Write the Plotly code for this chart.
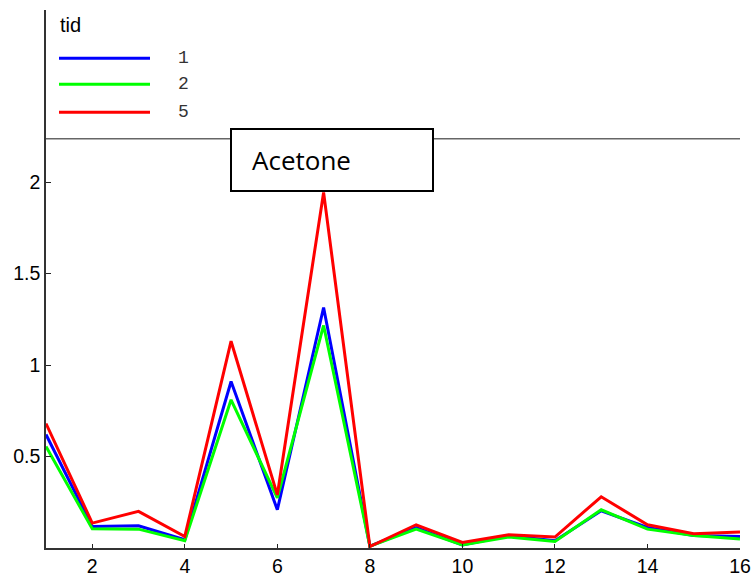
import plotly.graph_objects as go

# Measurement index 1..16 and responses per "tid" series
x_vals = list(range(1, 17))
tid_1 = [0.62, 0.117, 0.121, 0.045, 0.91, 0.209, 1.314, 0.01, 0.112, 0.017, 0.067, 0.04, 0.203, 0.112, 0.068, 0.063]
tid_2 = [0.555, 0.105, 0.103, 0.04, 0.81, 0.274, 1.216, 0.01, 0.103, 0.017, 0.06, 0.036, 0.209, 0.103, 0.068, 0.049]
tid_5 = [0.68, 0.136, 0.2, 0.063, 1.13, 0.29, 1.943, 0.008, 0.127, 0.03, 0.072, 0.06, 0.28, 0.127, 0.078, 0.087]

series_names = ["1", "2", "5"]
series_values = [tid_1, tid_2, tid_5]
series_colors = ["#0000FF", "#00FF00", "#FF0000"]

y_tick_vals = [0.5, 1, 1.5, 2]
y_tick_text = ["0.5", "1", "1.5", "2"]
x_tick_vals = [2, 4, 6, 8, 10, 12, 14, 16]

W, H = 753, 579
ML, MR, MT, MB = 46, 13, 10, 31
PW, PH = W - ML - MR, H - MT - MB


def px_x(p):
    return (p - ML) / PW


def px_y(p):
    return (H - MB - p) / PH


fig = go.Figure()
for name, vals, col in zip(series_names, series_values, series_colors):
    fig.add_trace(go.Scatter(x=x_vals, y=vals, mode="lines", name=name,
                             line=dict(color=col, width=3), showlegend=False))

axis_font = dict(family="Liberation Sans, Arial, sans-serif", size=19.5, color="black")

fig.update_layout(
    width=W, height=H,
    margin=dict(l=ML, r=MR, t=MT, b=MB, pad=0, autoexpand=False),
    paper_bgcolor="white", plot_bgcolor="white",
    xaxis=dict(range=[1, 16], tickvals=x_tick_vals, ticks="inside", ticklen=4,
               tickcolor="#222", showline=True, linecolor="#333", linewidth=1.5,
               showgrid=False, zeroline=False, tickfont=axis_font, automargin=False),
    yaxis=dict(range=[0, PH / 183.0], tickvals=y_tick_vals, ticktext=y_tick_text,
               ticks="inside", ticklen=5, tickcolor="#222", showline=True,
               linecolor="#333", linewidth=1.5, showgrid=False, zeroline=False,
               tickfont=axis_font, automargin=False),
)

shapes = []
# upper boundary of the data region
shapes.append(dict(type="line", xref="paper", yref="y", x0=0, x1=1, y0=2.236, y1=2.236,
                   line=dict(color="#666", width=1.5)))

# legend key lines
legend_rows_px = [58.3, 84.3, 112.3]
for row, col in zip(legend_rows_px, series_colors):
    shapes.append(dict(type="line", xref="paper", yref="paper",
                       x0=px_x(59), x1=px_x(150), y0=px_y(row), y1=px_y(row),
                       line=dict(color=col, width=3)))

# label box
shapes.append(dict(type="rect", xref="paper", yref="paper",
                   x0=px_x(231), x1=px_x(433), y0=px_y(191), y1=px_y(129),
                   line=dict(color="black", width=2), fillcolor="white", layer="above"))
fig.update_layout(shapes=shapes)

annotations = [
    dict(text="tid", xref="paper", yref="paper", x=px_x(58), y=px_y(25),
         xanchor="left", yanchor="middle", showarrow=False,
         font=dict(family="Liberation Sans, Arial, sans-serif", size=20, color="black")),
]
for row, name in zip(legend_rows_px, series_names):
    annotations.append(dict(text=name, xref="paper", yref="paper", x=px_x(176), y=px_y(row),
                            xanchor="left", yanchor="middle", showarrow=False,
                            font=dict(family="Liberation Mono, Courier New, monospace",
                                      size=18, color="#333")))
annotations.append(dict(text="Acetone", xref="paper", yref="paper", x=px_x(250), y=px_y(160),
                        xanchor="left", yanchor="middle", showarrow=False,
                        font=dict(family="Open Sans, sans-serif", size=26, color="black")))
fig.update_layout(annotations=annotations)

fig.write_html("out.html")
